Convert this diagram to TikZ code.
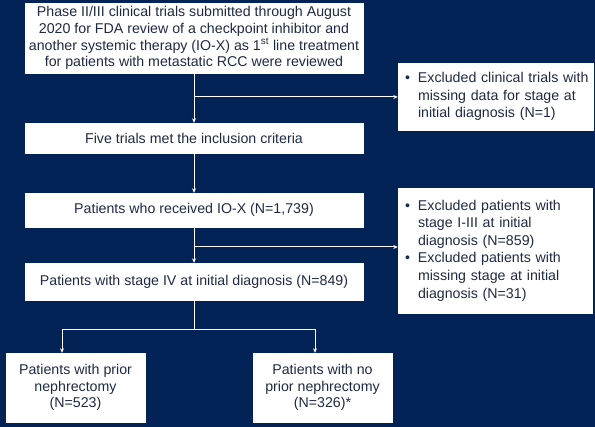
\documentclass[tikz,border=0pt]{standalone}
\usepackage{fontspec}
\setmainfont{Liberation Sans}
\usetikzlibrary{arrows.meta}
\definecolor{fondo}{HTML}{032356}
\definecolor{texto}{HTML}{1F2A44}
\newcommand{\vineta}[3]{\textbullet & #1\\ & #2\\ & #3\\}

\begin{document}
\begin{tikzpicture}[
        x=1pt, y=-1pt,
        caja/.style={draw=white, fill=white, text=texto, align=center, inner sep=0pt,
            font=\fontsize{14.2}{16.7}\selectfont},
        excluido/.style={caja, align=left, inner xsep=7pt, text width=#1,
            font=\fontsize{14.2}{17.6}\selectfont},
        flecha/.style={draw=white, line width=1pt, -{Stealth[length=4.5pt, width=4pt]}}
    ]
        % Fondo
        \fill[fondo] (0,0) rectangle (595,427);

        % Cajas principales
        \node[caja, minimum width=338pt, minimum height=70pt] (revision) at (194,38)
            {Phase II/III clinical trials submitted through August\\
             2020 for FDA review of a checkpoint inhibitor and\\
             another systemic therapy (IO-X) as 1\textsuperscript{st} line treatment\\
             for patients with metastatic RCC were reviewed};
        \node[caja, minimum width=338pt, minimum height=30pt] (cinco) at (194,138)
            {Five trials met the inclusion criteria};
        \node[caja, minimum width=338pt, minimum height=34pt] (iox) at (194,210)
            {Patients who received IO-X (N=1,739)};
        \node[caja, minimum width=338pt, minimum height=37pt] (estadio) at (194,281.5)
            {Patients with stage IV at initial diagnosis (N=849)};

        % Excluidos
        \node[excluido=181pt, minimum height=67pt] (excl1) at (495.5,96.5)
            {\begin{tabular}{@{}p{7pt}@{\hspace{6pt}}l@{}}
             \vineta{Excluded clinical trials with}{missing data for stage at}{initial diagnosis (N=1)}
             \end{tabular}};
        \node[excluido=180pt, minimum height=125pt] (excl2) at (495,250.5)
            {\begin{tabular}{@{}p{7pt}@{\hspace{6pt}}l@{}}
             \vineta{Excluded patients with}{stage I-III at initial}{diagnosis (N=859)}
             \vineta{Excluded patients with}{missing stage at initial}{diagnosis (N=31)}
             \end{tabular}};

        % Grupos finales
        \node[caja, minimum width=139pt, minimum height=69pt] (previa) at (75.5,387.5)
            {Patients with prior\\ nephrectomy\\ (N=523)};
        \node[caja, minimum width=139pt, minimum height=69pt] (sinprevia) at (322.5,387.5)
            {Patients with no\\ prior nephrectomy\\ (N=326)*};

        % Puntos de ramificacion
        \coordinate (r1) at (194,97);
        \coordinate (r2) at (194,247);
        \coordinate (r3) at (194,330);

        \draw[flecha] (revision) -- (cinco);
        \draw[flecha] (r1) -- (r1 -| excl1.west);
        \draw[flecha] (cinco) -- (iox);
        \draw[flecha] (iox) -- (estadio);
        \draw[flecha] (r2) -- (r2 -| excl2.west);
        \draw[draw=white, line width=1pt] (estadio) -- (r3);
        \draw[flecha] (r3) -| ([xshift=-13.5pt]previa.north);
        \draw[flecha] (r3) -| ([xshift=-7.5pt]sinprevia.north);
    \end{tikzpicture}
\end{document}
